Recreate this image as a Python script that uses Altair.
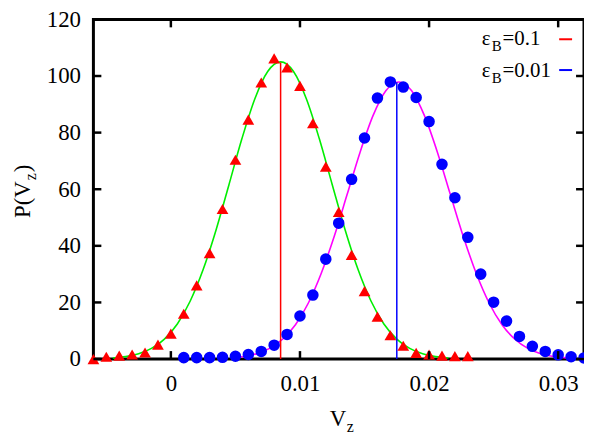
import altair as alt
import pandas as pd

# ---------------- data ----------------
tri_x = [-0.006, -0.005, -0.004, -0.003, -0.002, -0.001, 0.000, 0.001, 0.002, 0.003,
         0.004, 0.005, 0.006, 0.007, 0.008, 0.009, 0.010, 0.011, 0.012, 0.013,
         0.014, 0.015, 0.016, 0.017, 0.018, 0.019, 0.020, 0.021, 0.022, 0.023]
tri_y = [0.0, 0.8, 1.2, 1.6, 2.3, 5.1, 9.0, 16.0, 26.0, 37.4,
         53.0, 70.4, 84.6, 97.7, 106.2, 103.0, 96.5, 83.3, 68.0, 52.0,
         36.8, 24.0, 15.0, 8.4, 4.7, 2.2, 1.6, 1.2, 1.0, 1.0]

circ_x = [0.001, 0.002, 0.003, 0.004, 0.005, 0.006, 0.007, 0.008, 0.009, 0.010,
          0.011, 0.012, 0.013, 0.014, 0.015, 0.016, 0.017, 0.018, 0.019, 0.020,
          0.021, 0.022, 0.023, 0.024, 0.025, 0.026, 0.027, 0.028, 0.029, 0.030,
          0.031, 0.032]
circ_y = [0.5, 0.5, 0.5, 0.6, 1.0, 1.6, 2.7, 4.9, 8.7, 15.2,
          22.6, 35.3, 48.0, 63.5, 78.1, 92.2, 97.9, 96.1, 92.4, 83.9,
          68.8, 57.0, 43.0, 30.0, 20.1, 13.4, 8.0, 4.5, 2.7, 1.5,
          0.8, 0.4]

green_x = [-0.0045, -0.0035, -0.0025, -0.0015, -0.0005, 0.0005, 0.0015, 0.0025, 0.0035,
           0.0045, 0.0055, 0.0065, 0.0075, 0.0085, 0.0095, 0.0105, 0.0115, 0.0125,
           0.0135, 0.0145, 0.0155, 0.0165, 0.0175, 0.0185, 0.0195, 0.0205, 0.0215]
green_y = [0.38, 0.86, 1.86, 3.75, 7.06, 12.4, 20.5, 31.6, 45.6,
           61.6, 77.8, 91.9, 101.6, 105.0, 101.6, 91.9, 77.8, 61.6,
           45.6, 31.6, 20.5, 12.4, 7.06, 3.75, 1.86, 0.86, 0.38]

mag_x = [0.00465, 0.00565, 0.00665, 0.00765, 0.00865, 0.00965, 0.01065, 0.01165, 0.01265,
         0.01365, 0.01465, 0.01565, 0.01665, 0.01765, 0.01865, 0.01965, 0.02065, 0.02165,
         0.02265, 0.02365, 0.02465, 0.02565, 0.02665, 0.02765, 0.02865, 0.02965, 0.03065]
mag_y = [0.40, 0.89, 1.89, 3.76, 6.98, 12.1, 19.8, 30.3, 43.3,
         58.1, 73.0, 85.9, 94.8, 97.9, 94.8, 85.9, 73.0, 58.1,
         43.3, 30.3, 19.8, 12.1, 6.98, 3.76, 1.89, 0.89, 0.40]

vline_x = [0.0085, 0.0175]
vline_top = [104.8, 97.8]
vline_col = ["#ff0000", "#0000ff"]

x_ticks = [0.0, 0.01, 0.02, 0.03]
y_ticks = [0, 20, 40, 60, 80, 100, 120]

W, H = 494, 342
FONT = "Liberation Serif"

xs = alt.Scale(domain=[-0.006, 0.032], nice=False, zero=False)
ys = alt.Scale(domain=[0, 120], nice=False)

tri_df = pd.DataFrame({"x": tri_x, "y": tri_y})
circ_df = pd.DataFrame({"x": circ_x, "y": circ_y})
green_df = pd.DataFrame({"x": green_x, "y": green_y})
mag_df = pd.DataFrame({"x": mag_x, "y": mag_y})
vl_df = pd.DataFrame({"x": vline_x, "y": [0.0] * len(vline_x), "top": vline_top, "c": vline_col})
xt_df = pd.DataFrame({"x": x_ticks})
yt_df = pd.DataFrame({"y": y_ticks})

xaxis = alt.Axis(values=x_ticks, format=".2~f", title=None, grid=False, domain=False,
                 ticks=False, labelFont=FONT, labelFontSize=23, labelColor="black",
                 labelPadding=14)
yaxis = alt.Axis(values=y_ticks, title=None, grid=False, domain=False, ticks=False,
                 labelFont=FONT, labelFontSize=23, labelColor="black", labelPadding=13)

base_x = alt.X("x:Q", scale=xs, axis=xaxis)
base_y = alt.Y("y:Q", scale=ys, axis=yaxis)

green = alt.Chart(green_df).mark_line(color="#00ee00", strokeWidth=1.6,
                                      interpolate="monotone").encode(x=base_x, y=base_y)
mag = alt.Chart(mag_df).mark_line(color="#ff00ff", strokeWidth=1.6,
                                  interpolate="monotone").encode(x="x:Q", y="y:Q")
vlines = alt.Chart(vl_df).mark_rule(strokeWidth=1.5).encode(
    x="x:Q", y="y:Q", y2="top:Q", color=alt.Color("c:N", scale=None))
tris = alt.Chart(tri_df).mark_point(shape="triangle-up", filled=True, color="#ff0000",
                                    size=140, opacity=1).encode(x="x:Q", y="y:Q")
circs = alt.Chart(circ_df).mark_point(shape="circle", filled=True, color="#0000ff",
                                      size=135, opacity=1).encode(x="x:Q", y="y:Q")

# inward ticks
xt_bot = alt.Chart(xt_df).mark_rule(color="black", strokeWidth=2.5).encode(
    x="x:Q", y=alt.value(H), y2=alt.value(H - 8))
xt_top = alt.Chart(xt_df).mark_rule(color="black", strokeWidth=2.5).encode(
    x="x:Q", y=alt.value(0), y2=alt.value(8))
yt_l = alt.Chart(yt_df).mark_rule(color="black", strokeWidth=2.5).encode(
    y="y:Q", x=alt.value(0), x2=alt.value(8))
yt_r = alt.Chart(yt_df).mark_rule(color="black", strokeWidth=2.5).encode(
    y="y:Q", x=alt.value(W), x2=alt.value(W - 8))


def txt(s, x, y, size, angle=0, baseline="alphabetic", align="left"):
    return alt.Chart(pd.DataFrame({"t": [s]})).mark_text(
        font=FONT, fontSize=size, color="black", angle=angle, baseline=baseline,
        align=align).encode(text="t:N", x=alt.value(x), y=alt.value(y))


texts = [
    # x title V_z
    txt("V", 238, 409, 23),
    txt("z", 255, 415, 16),
    # y title P(V_z)
    txt("P(V", -64, 200, 23, angle=270),
    txt("z", -58, 162, 16, angle=270),
    txt(")", -64, 154, 23, angle=270),
    # legend
    txt("ε", 391, 26, 21),
    txt("B", 401, 32, 15),
    txt("=0.1", 412, 26, 21),
    txt("ε", 391, 58, 21),
    txt("B", 401, 64, 15),
    txt("=0.01", 412, 58, 21),
]

leg_red = alt.Chart(pd.DataFrame({"a": [0]})).mark_rule(color="#ff0000", strokeWidth=2).encode(
    x=alt.value(469), x2=alt.value(482), y=alt.value(20))
leg_blue = alt.Chart(pd.DataFrame({"a": [0]})).mark_rule(color="#0000ff", strokeWidth=2).encode(
    x=alt.value(469), x2=alt.value(482), y=alt.value(51))

chart = alt.layer(green, mag, vlines, tris, circs, xt_bot, xt_top, yt_l, yt_r,
                  leg_red, leg_blue, *texts).properties(
    width=W, height=H,
    autosize=alt.AutoSizeParams(type="none"),
    padding={"left": 86, "top": 10, "right": 0, "bottom": 74},
).configure_view(stroke="black", strokeWidth=3)

chart.save("out.html", embed_options={"renderer": "svg", "actions": False})
